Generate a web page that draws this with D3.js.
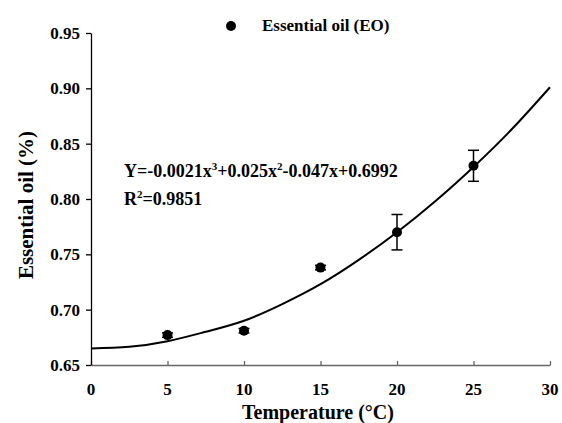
<!DOCTYPE html>
<html>
<head>
<meta charset="utf-8">
<script src="https://cdnjs.cloudflare.com/ajax/libs/d3/7.8.5/d3.min.js"></script>
<style>
  body { margin: 0; background: #fff; }
  .y_axis path, .y_axis line { stroke: #000; stroke-width: 1.3; }
  .x_axis path, .x_axis line { stroke: #666; stroke-width: 1.3; }
</style>
</head>
<body>
<svg width="562" height="423" class="chart" font-family="Liberation Serif" font-weight="bold"></svg>
<script>
// measured points
let temps = [5, 10, 15, 20, 25];
let oil = [0.677, 0.681, 0.738, 0.770, 0.830];
let oilErr = [0.002, 0.002, 0.002, 0.016, 0.014];

// fitted curve
let curveX = [0, 2.5, 5, 7.5, 10, 12.5, 15, 17.5, 20, 22.5, 25, 27.5, 30];
let curveY = [0.665, 0.6665, 0.6715, 0.680, 0.690, 0.705, 0.723, 0.745, 0.770, 0.798, 0.829, 0.863, 0.901];

let xTicks = [0, 5, 10, 15, 20, 25, 30];
let yTicks = [0.65, 0.70, 0.75, 0.80, 0.85, 0.90, 0.95];

let svg = d3.select(".chart");

let x = d3.scaleLinear().domain([0, 30]).range([91, 550]);
let y = d3.scaleLinear().domain([0.65, 0.95]).range([365, 33]);

svg.append("g")
    .attr("class", "x_axis")
    .attr("transform", "translate(0,365)")
    .call(d3.axisTop(x).tickValues(xTicks).tickSize(4).tickSizeOuter(0))
    .call(g => g.selectAll("text").remove());

svg.append("g").selectAll("text")
  .data(xTicks)
  .enter().append("text")
    .attr("x", d => x(d))
    .attr("y", 395)
    .attr("text-anchor", "middle")
    .text(d => d);

svg.append("g")
    .attr("class", "y_axis")
    .attr("transform", "translate(91,0)")
    .call(d3.axisLeft(y).tickValues(yTicks).tickSize(5).tickSizeOuter(0).tickFormat(d3.format(".2f")))
    .call(g => g.selectAll("text").attr("x", -11).attr("fill", "#000"));

// fitted curve
let line = d3.line()
    .x(d => x(d[0]))
    .y(d => y(d[1]))
    .curve(d3.curveNatural);

svg.append("path")
    .datum(d3.zip(curveX, curveY))
    .attr("d", line)
    .attr("fill", "none")
    .attr("stroke", "#000")
    .attr("stroke-width", 2);

// error bars
let pts = d3.zip(temps, oil, oilErr);
let eb = svg.append("g").attr("stroke", "#000").attr("stroke-width", 1.5);
eb.selectAll(".v").data(pts).enter().append("line")
    .attr("x1", d => x(d[0])).attr("x2", d => x(d[0]))
    .attr("y1", d => y(d[1] - d[2])).attr("y2", d => y(d[1] + d[2]));
eb.selectAll(".t").data(pts).enter().append("line")
    .attr("x1", d => x(d[0]) - 5.5).attr("x2", d => x(d[0]) + 5.5)
    .attr("y1", d => y(d[1] + d[2])).attr("y2", d => y(d[1] + d[2]));
eb.selectAll(".b").data(pts).enter().append("line")
    .attr("x1", d => x(d[0]) - 5.5).attr("x2", d => x(d[0]) + 5.5)
    .attr("y1", d => y(d[1] - d[2])).attr("y2", d => y(d[1] - d[2]));

svg.append("g").selectAll("circle")
  .data(pts)
  .enter().append("circle")
    .attr("cx", d => x(d[0]))
    .attr("cy", d => y(d[1]))
    .attr("r", 5)
    .attr("fill", "#000");

// legend
svg.append("circle").attr("cx", 231).attr("cy", 26).attr("r", 5).attr("fill", "#000");
svg.append("text").attr("x", 262).attr("y", 31).attr("data-size", 17).text("Essential oil (EO)");

// equation
let eq = svg.append("text").attr("x", 124).attr("y", 177).attr("data-size", 18);
eq.append("tspan").text("Y=-0.0021x");
eq.append("tspan").attr("dy", -7).style("font-size", "11px").text("3");
eq.append("tspan").attr("dy", 7).text("+0.025x");
eq.append("tspan").attr("dy", -7).style("font-size", "11px").text("2");
eq.append("tspan").attr("dy", 7).text("-0.047x+0.6992");

let r2 = svg.append("text").attr("x", 124).attr("y", 205).attr("data-size", 18);
r2.append("tspan").text("R");
r2.append("tspan").attr("dy", -7).style("font-size", "11px").text("2");
r2.append("tspan").attr("dy", 7).text("=0.9851");

// axis titles
svg.append("text")
    .attr("x", 318).attr("y", 419)
    .attr("text-anchor", "middle")
    .attr("data-size", 20)
    .text("Temperature (\u00B0C)");

svg.append("text")
    .attr("transform", "translate(33,205) rotate(-90)")
    .attr("text-anchor", "middle")
    .attr("data-size", 21)
    .text("Essential oil (%)");

// same font everywhere
svg.selectAll("text").each(function() {
  let s = d3.select(this);
  s.attr("font-family", "Liberation Serif")
   .style("font-family", "Liberation Serif")
   .style("font-weight", "bold")
   .style("font-size", (s.attr("data-size") || 17) + "px");
});
</script>
</body>
</html>
